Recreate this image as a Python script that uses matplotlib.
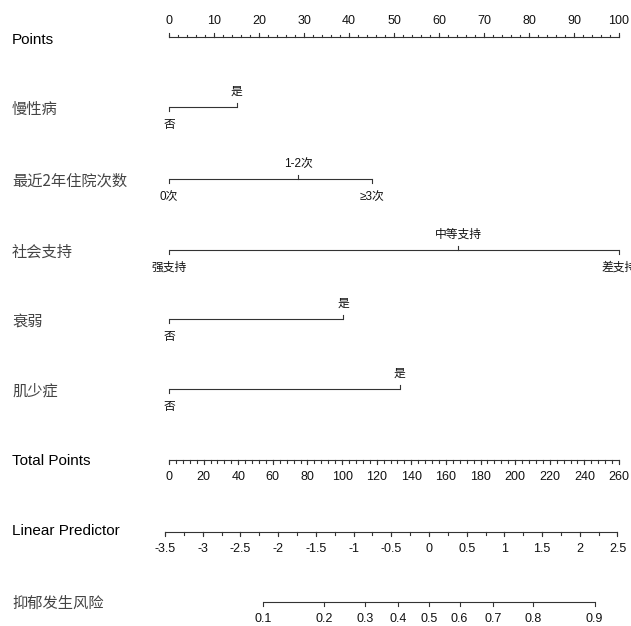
"""Nomogram for depression risk (rms-style layout)."""
import matplotlib

matplotlib.use("Agg")
import matplotlib.pyplot as plt
import numpy as np

# --- data ------------------------------------------------------------------
POINTS_TICKS = list(range(0, 101, 10))
POINTS_MINOR = list(range(0, 101, 2))

VARIABLES = ["慢性病", "最近2年住院次数", "社会支持", "衰弱", "肌少症"]
LEVEL_LABELS = [
    ["否", "是"],
    ["0次", "1-2次", "≥3次"],
    ["强支持", "中等支持", "差支持"],
    ["否", "是"],
    ["否", "是"],
]
LEVEL_POINTS = [
    [0, 15.0],
    [0, 28.7, 45.0],
    [0, 64.2, 100.0],
    [0, 38.7],
    [0, 51.3],
]

TOTAL_TICKS = list(range(0, 261, 20))
TOTAL_MINOR = list(range(0, 261, 4))
TOTAL_MAX = 260

LP_TICKS = [-3.5, -3, -2.5, -2, -1.5, -1, -0.5, 0, 0.5, 1, 1.5, 2, 2.5]
LP_MINOR = list(np.arange(-3.5, 2.51, 0.25))
LP_INTERCEPT = -3.448   # linear predictor at 0 total points
LP_SLOPE = 0.022955     # linear predictor per total point

RISK_TICKS = [0.1, 0.2, 0.3, 0.4, 0.5, 0.6, 0.7, 0.8, 0.9]
RISK_LABELS = ["0.1", "0.2", "0.3", "0.4", "0.5", "0.6", "0.7", "0.8", "0.9"]

# --- layout ----------------------------------------------------------------
W, H = 631, 626
X0_PX, X100_PX = 169, 619          # where 0 and 100 points sit
LABEL_X_PX = 12
ROW_Y = {
    "Points": 37,
    "慢性病": 107,
    "最近2年住院次数": 179,
    "社会支持": 250,
    "衰弱": 319,
    "肌少症": 389,
    "Total Points": 460,
    "Linear Predictor": 532,
    "抑郁发生风险": 602,
}
LINE_C = "#333333"
LW = 0.8
CJK = ["Noto Sans CJK SC", "DejaVu Sans"]
LATIN = ["Liberation Sans", "DejaVu Sans"]
MIXED = ["Liberation Sans", "Noto Sans CJK SC", "DejaVu Sans"]


def total_to_x(t):
    return np.asarray(t, dtype=float) * 100.0 / TOTAL_MAX


def lp_to_x(v):
    return total_to_x((np.asarray(v, dtype=float) - LP_INTERCEPT) / LP_SLOPE)


def risk_to_x(p):
    p = np.asarray(p, dtype=float)
    return lp_to_x(np.log(p / (1 - p)))


def px_to_x(px):
    return (px - X0_PX) * 100.0 / (X100_PX - X0_PX)


def draw_axis(ax, y, major, labels, minor=None, up=False, major_len=4, minor_len=2.5):
    sign = -1 if up else 1
    ends = major + (minor or [])
    ax.plot([min(ends), max(ends)], [y, y], color=LINE_C, lw=LW, solid_capstyle="butt")
    if minor:
        for m in minor:
            ax.plot([m, m], [y, y + sign * minor_len], color=LINE_C, lw=LW)
    for m, lab in zip(major, labels):
        ax.plot([m, m], [y, y + sign * major_len], color=LINE_C, lw=LW)
        ax.text(m, y + sign * 16.5, lab, ha="center", va="center",
                fontsize=9, family=LATIN, color="#111111")


def draw_factor(ax, y, xs, labels):
    ax.plot([min(xs), max(xs)], [y, y], color=LINE_C, lw=LW, solid_capstyle="butt")
    for i, (x, lab) in enumerate(zip(xs, labels)):
        above = i % 2 == 1
        sign = -1 if above else 1
        ax.plot([x, x], [y, y + sign * 4], color=LINE_C, lw=LW)
        dy = -15 if above else 18
        ax.text(x, y + dy, lab, ha="center", va="center", fontsize=8.5,
                family=MIXED, color="#111111")


def main():
    fig = plt.figure(figsize=(W / 100, H / 100), dpi=100)
    ax = fig.add_axes([0, 0, 1, 1])
    ax.set_xlim(px_to_x(0), px_to_x(W))
    ax.set_ylim(H, 0)
    ax.axis("off")

    lab_x = px_to_x(LABEL_X_PX)

    # points scale
    y = ROW_Y["Points"]
    draw_axis(ax, y, POINTS_TICKS, [str(t) for t in POINTS_TICKS], POINTS_MINOR, up=True)
    ax.text(lab_x, y + 3, "Points", ha="left", va="center", fontsize=11, family=LATIN)

    # predictors
    for name, labels, pts in zip(VARIABLES, LEVEL_LABELS, LEVEL_POINTS):
        y = ROW_Y[name]
        draw_factor(ax, y, pts, labels)
        ax.text(lab_x, y + 2, name, ha="left", va="center", fontsize=11,
                family=CJK, color="#444444")

    # total points
    y = ROW_Y["Total Points"]
    draw_axis(ax, y, list(total_to_x(TOTAL_TICKS)), [str(t) for t in TOTAL_TICKS],
              list(total_to_x(TOTAL_MINOR)), minor_len=3)
    ax.text(lab_x, y + 1, "Total Points", ha="left", va="center", fontsize=11, family=LATIN)

    # linear predictor
    y = ROW_Y["Linear Predictor"]
    draw_axis(ax, y, list(lp_to_x(LP_TICKS)), [f"{v:g}" for v in LP_TICKS],
              list(lp_to_x(LP_MINOR)))
    ax.text(lab_x, y - 1, "Linear Predictor", ha="left", va="center", fontsize=11, family=LATIN)

    # risk
    y = ROW_Y["抑郁发生风险"]
    draw_axis(ax, y, list(risk_to_x(RISK_TICKS)), RISK_LABELS)
    ax.text(lab_x, y + 1, "抑郁发生风险", ha="left", va="center", fontsize=11,
            family=CJK, color="#444444")

    fig.savefig("out.png", dpi=100)


if __name__ == "__main__":
    main()
